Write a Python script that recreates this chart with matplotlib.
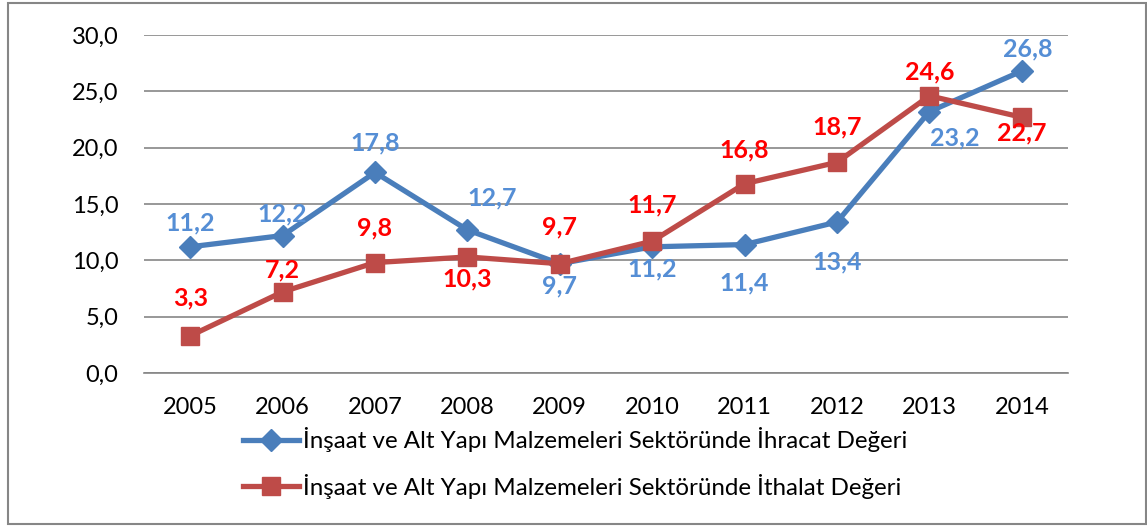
import matplotlib.pyplot as plt
from matplotlib.patches import Rectangle

plt.rcParams['font.family'] = ['Lato', 'DejaVu Sans']

years = ['2005', '2006', '2007', '2008', '2009', '2010', '2011', '2012', '2013', '2014']
ihracat = [11.2, 12.2, 17.8, 12.7, 9.7, 11.2, 11.4, 13.4, 23.2, 26.8]
ithalat = [3.3, 7.2, 9.8, 10.3, 9.7, 11.7, 16.8, 18.7, 24.6, 22.7]
ihracat_label = 'İnşaat ve Alt Yapı Malzemeleri Sektöründe İhracat Değeri'
ithalat_label = 'İnşaat ve Alt Yapı Malzemeleri Sektöründe İthalat Değeri'

# label offsets in pixels (dx, dy), picked by eye from the reference
ihracat_off = [(0, 24), (0, 22), (0, 30), (25, 32), (0, -22),
               (0, -22), (0, -38), (0, -40), (25, -26), (6, 22)]
ithalat_off = [(0, 38), (0, 22), (0, 35), (0, -22), (0, 37),
               (0, 36), (0, 34), (0, 35), (0, 24), (0, -16)]

fig = plt.figure(figsize=(11.47, 5.26), dpi=100)
fig.patches.append(Rectangle((8 / 1147, 2 / 526), 1138 / 1147, 521 / 526,
                             transform=fig.transFigure, fill=False,
                             edgecolor='#868686', linewidth=1.5))
ax = fig.add_axes([144 / 1147, 153 / 526, 924 / 1147, 338 / 526])

x = list(range(len(years)))
l1, = ax.plot(x, ihracat, color='#4A7EBB', linewidth=3.8, marker='D',
              markersize=11, label=ihracat_label, zorder=3)
l2, = ax.plot(x, ithalat, color='#BE4B48', linewidth=3.8, marker='s',
              markersize=13, label=ithalat_label, zorder=4)

for xi, v, (dx, dy) in zip(x, ihracat, ihracat_off):
    ax.annotate('{:.1f}'.format(v).replace('.', ','), (xi, v),
                xytext=(dx, dy), textcoords='offset pixels',
                ha='center', va='center', fontsize=18, fontweight='bold',
                color='#558ED5', zorder=5)
for xi, v, (dx, dy) in zip(x, ithalat, ithalat_off):
    ax.annotate('{:.1f}'.format(v).replace('.', ','), (xi, v),
                xytext=(dx, dy), textcoords='offset pixels',
                ha='center', va='center', fontsize=18, fontweight='bold',
                color='#FF0000', zorder=5)

ax.set_xlim(-0.5, len(years) - 0.5)
ax.set_ylim(0, 30)
ax.set_yticks([0, 5, 10, 15, 20, 25, 30])
ax.set_yticklabels(['{:.1f}'.format(t).replace('.', ',') for t in [0, 5, 10, 15, 20, 25, 30]])
ax.set_xticks(x)
ax.set_xticklabels(years)
ax.tick_params(axis='both', length=0, labelsize=17)
ax.tick_params(axis='y', pad=18.5)
ax.tick_params(axis='x', pad=17)
ax.yaxis.grid(True, color='#868686', linewidth=1.2)
ax.set_axisbelow(True)
for s in ['top', 'right', 'left']:
    ax.spines[s].set_visible(False)
ax.spines['bottom'].set_color('#868686')
ax.spines['bottom'].set_linewidth(1.2)

fig.legend(handles=[l1, l2], loc='upper left', bbox_to_anchor=(243 / 1147, 1 - 427 / 526),
           frameon=False, fontsize=17.4, handlelength=2.3, handletextpad=0.2,
           labelspacing=0.9, borderpad=0, borderaxespad=0)

fig.savefig('out.png', dpi=100)
